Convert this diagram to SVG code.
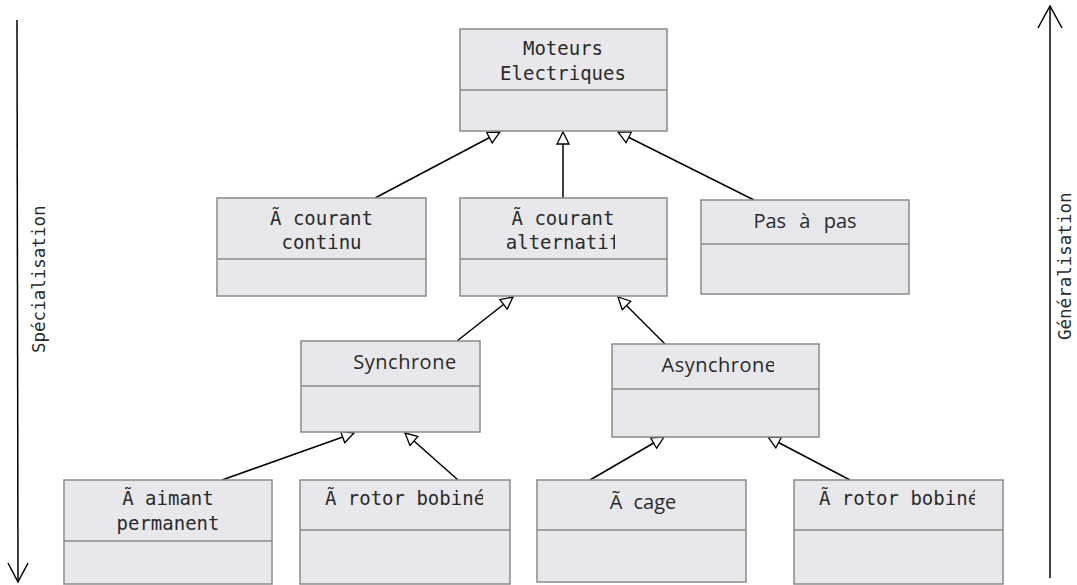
<svg xmlns="http://www.w3.org/2000/svg" width="1077" height="585" viewBox="0 0 1077 585">
<style>
.box{fill:#e8e8ec;stroke:#8a8a8a;stroke-width:1.5}
.div{stroke:#8a8a8a;stroke-width:1.5}
.mono{font-family:"DejaVu Sans Mono","Liberation Mono",monospace;font-size:19px;fill:#2a2a2a;text-anchor:middle}
.prop{font-family:"Open Sans","Noto Sans",sans-serif;font-size:20px;fill:#2a2a2a;text-anchor:middle}
.side{font-family:"DejaVu Sans Mono","Liberation Mono",monospace;font-size:17.5px;fill:#2a2a2a}
.conn{stroke:#000;stroke-width:1.5;fill:none}
</style>
<defs>
<marker id="tri" viewBox="0 -7 14 14" refX="13" refY="0" markerWidth="14" markerHeight="14" markerUnits="userSpaceOnUse" orient="auto">
<path d="M1,-6 L13,0 L1,6 Z" fill="#fff" stroke="#000" stroke-width="1.3"/>
</marker>
<clipPath id="cElec"><rect x="460" y="28" width="167" height="100"/></clipPath>
<clipPath id="cAlt"><rect x="460" y="198" width="155" height="98"/></clipPath>
<clipPath id="cAsyn"><rect x="612" y="344" width="162" height="93"/></clipPath>
<clipPath id="cCage"><rect x="537" y="480" width="141" height="100"/></clipPath>
<clipPath id="cRot1"><rect x="300" y="480" width="183" height="100"/></clipPath>
<clipPath id="cRot2"><rect x="794" y="480" width="181" height="100"/></clipPath>
<clipPath id="cSpec"><rect x="20" y="206" width="40" height="200"/></clipPath>
<clipPath id="cGen"><rect x="1052" y="194" width="25" height="200"/></clipPath>
</defs>

<g id="connectors">
<line class="conn" x1="375" y1="198" x2="500" y2="132" marker-end="url(#tri)"/>
<line class="conn" x1="563" y1="198" x2="563" y2="132" marker-end="url(#tri)"/>
<line class="conn" x1="754" y1="200" x2="618" y2="132" marker-end="url(#tri)"/>
<line class="conn" x1="457" y1="341" x2="513" y2="297" marker-end="url(#tri)"/>
<line class="conn" x1="665" y1="344" x2="618" y2="297" marker-end="url(#tri)"/>
<line class="conn" x1="222" y1="480" x2="354" y2="433" marker-end="url(#tri)"/>
<line class="conn" x1="458" y1="480" x2="405" y2="433" marker-end="url(#tri)"/>
<line class="conn" x1="590" y1="480" x2="664" y2="437" marker-end="url(#tri)"/>
<line class="conn" x1="850" y1="480" x2="768" y2="437" marker-end="url(#tri)"/>
</g>

<g id="specialisation">
<line class="conn" x1="17" y1="20" x2="18" y2="582"/>
<polyline class="conn" points="8,563 18,582 28,563"/>
<g clip-path="url(#cSpec)"><text class="side" transform="translate(45,353) rotate(-90)">Spécialisation</text></g>
</g>
<g id="generalisation">
<line class="conn" x1="1050" y1="6" x2="1050" y2="578"/>
<polyline class="conn" points="1038,28 1050,6 1062,28"/>
<g clip-path="url(#cGen)"><text class="side" transform="translate(1071,340) rotate(-90)">Généralisation</text></g>
</g>

<g id="moteurs">
<rect class="box" x="460" y="29" width="207" height="102"/>
<line class="div" x1="460" y1="90" x2="667" y2="90"/>
<text class="mono" x="563" y="55">Moteurs</text>
<text class="mono" x="563" y="80" clip-path="url(#cElec)">Electriques</text>
</g>

<g id="continu">
<rect class="box" x="217" y="198" width="209" height="98"/>
<line class="div" x1="217" y1="259" x2="426" y2="259"/>
<text class="mono" x="321.5" y="225">Ã courant</text>
<text class="mono" x="321.5" y="249">continu</text>
</g>

<g id="alternatif">
<rect class="box" x="460" y="198" width="207" height="98"/>
<line class="div" x1="460" y1="259" x2="667" y2="259"/>
<text class="mono" x="563" y="225">Ã courant</text>
<text class="mono" x="563" y="249" clip-path="url(#cAlt)">alternatif</text>
</g>

<g id="pasapas">
<rect class="box" x="701" y="200" width="208" height="94"/>
<line class="div" x1="701" y1="244" x2="909" y2="244"/>
<text class="prop" x="805" y="228" word-spacing="8">Pas à pas</text>
</g>

<g id="synchrone">
<rect class="box" x="301" y="341" width="179" height="91"/>
<line class="div" x1="301" y1="386" x2="480" y2="386"/>
<text class="prop" x="405" y="369" letter-spacing="0.5">Synchrone</text>
</g>

<g id="asynchrone">
<rect class="box" x="612" y="344" width="207" height="93"/>
<line class="div" x1="612" y1="389" x2="819" y2="389"/>
<text class="prop" x="719" y="372" letter-spacing="0.5" clip-path="url(#cAsyn)">Asynchrone</text>
</g>

<g id="aimant">
<rect class="box" x="64" y="480" width="208" height="104"/>
<line class="div" x1="64" y1="541" x2="272" y2="541"/>
<text class="mono" x="168" y="505">Ã aimant</text>
<text class="mono" x="168" y="530">permanent</text>
</g>

<g id="rotor1">
<rect class="box" x="300" y="480" width="210" height="104"/>
<line class="div" x1="300" y1="530" x2="510" y2="530"/>
<text class="mono" x="405" y="505" clip-path="url(#cRot1)">Ã rotor bobiné</text>
</g>

<g id="cage">
<rect class="box" x="537" y="480" width="209" height="102"/>
<line class="div" x1="537" y1="530" x2="746" y2="530"/>
<text class="prop" x="643" y="509" word-spacing="6" clip-path="url(#cCage)">Ã cage</text>
</g>

<g id="rotor2">
<rect class="box" x="794" y="480" width="209" height="104"/>
<line class="div" x1="794" y1="530" x2="1003" y2="530"/>
<text class="mono" x="899" y="505" clip-path="url(#cRot2)">Ã rotor bobiné</text>
</g>
</svg>
